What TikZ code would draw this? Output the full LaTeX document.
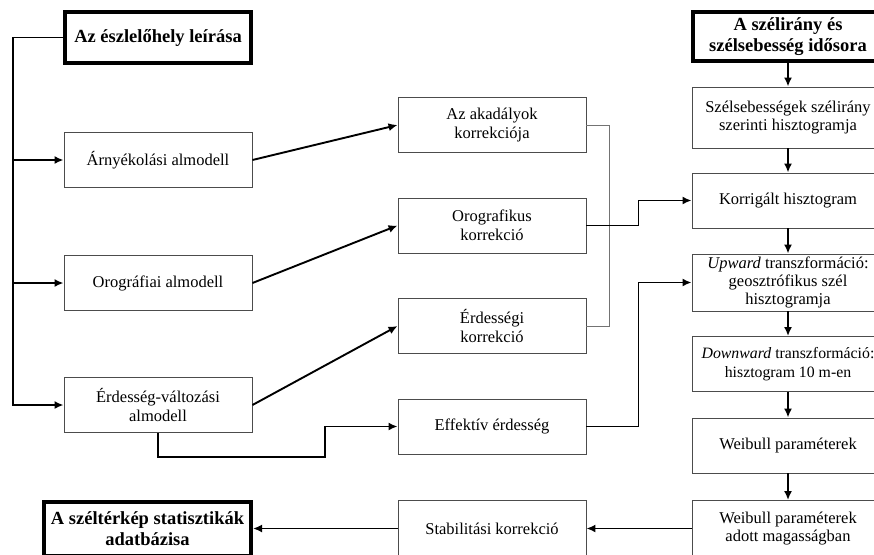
\documentclass[tikz,border=0pt]{standalone}
\usepackage{fontspec}
\setmainfont{Liberation Serif}
\usetikzlibrary{arrows.meta}

\tikzset{
  box/.style={draw=black!70, line width=0.9pt, minimum width=188pt, minimum height=55pt,
    align=center, inner sep=2pt, font=\fontsize{16.5}{18.8}\selectfont},
  rbox/.style={box, minimum width=192pt},
  titlebox/.style={draw, line width=4pt, align=center, inner sep=0pt,
    font=\fontsize{18.5}{21}\selectfont\bfseries},
  link/.style={line width=1.9pt, ->},
}

\begin{document}
\begin{tikzpicture}[x=1pt,y=-1pt,>={Latex[length=9pt,width=8pt]}]
  \useasboundingbox (0,0) rectangle (874,554);
  % input blocks
  \node[titlebox, minimum width=186pt, minimum height=51pt] (site) at (158,37.5) {Az észlelőhely leírása};
  \node[titlebox, minimum width=190pt, minimum height=49pt] (series) at (788,36.5) {A szélirány és\\szélsebesség idősora};
  \node[titlebox, minimum width=207pt, minimum height=54pt] (db) at (147.5,528.5) {A széltérkép statisztikák\\adatbázisa};
  % submodels
  \node[box] (shade) at (158,160) {Árnyékolási almodell};
  \node[box] (oro) at (158,283) {Orográfiai almodell};
  \node[box] (rough) at (158,405) {Érdesség-változási\\almodell};
  % corrections
  \node[box] (obst) at (492,125) {Az akadályok\\korrekciója};
  \node[box] (orocorr) at (492,225.5) {Orografikus\\korrekció};
  \node[box] (roughcorr) at (492,326) {Érdességi\\korrekció};
  \node[box] (eff) at (492,426.5) {Effektív érdesség};
  \node[box, minimum height=56pt] (stab) at (492,528.5) {Stabilitási korrekció};
  % histogram chain
  \node[rbox, minimum height=61pt] (hist) at (788,117.5) {Szélsebességek szélirány\\szerinti hisztogramja};
  \node[rbox] (corr) at (788,200.5) {Korrigált hisztogram};
  \node[rbox, minimum height=57pt, font=\fontsize{16.5}{18}\selectfont] (up) at (788,282.5) {\textit{Upward} transzformáció:\\geosztrófikus szél\\hisztogramja};
  \node[rbox, font=\fontsize{15.8}{18.8}\selectfont] (down) at (788,364) {\textit{Downward} transzformáció:\\hisztogram 10 m-en};
  \node[rbox] (weib) at (788,445.5) {Weibull paraméterek};
  \node[rbox, minimum height=56pt] (weibh) at (788,528.5) {Weibull paraméterek\\adott magasságban};

  % left trunk
  \coordinate (trunk) at (13,0);
  \draw[link] (site.west) -| (trunk |- rough) -- (rough.west);
  \draw[link] (trunk |- shade) -- (shade.west);
  \draw[link] (trunk |- oro) -- (oro.west);
  % submodels to corrections
  \draw[link] (shade.east) -- (obst.west);
  \draw[link] (oro.east) -- (orocorr.west);
  \draw[link] (rough.east) -- (roughcorr.west);
  \draw[link] (rough.south) -- ++(0,24) -- ++(167,0) |- (eff.west);
  % corrections to histograms
  \draw[black!55, line width=0.9pt] (obst.east) -- ++(23,0) |- (roughcorr.east);
  \draw[link] (orocorr.east) -- ++(52,0) |- (corr.west);
  \draw[link] (eff.east) -- ++(52,0) |- (up.west);
  % right column
  \draw[link] (series) -- (hist);
  \draw[link] (hist) -- (corr);
  \draw[link] (corr) -- (up);
  \draw[link] (up) -- (down);
  \draw[link] (down) -- (weib);
  \draw[link] (weib) -- (weibh);
  \draw[link] (weibh) -- (stab);
  \draw[link] (stab) -- (db);
\end{tikzpicture}
\end{document}
